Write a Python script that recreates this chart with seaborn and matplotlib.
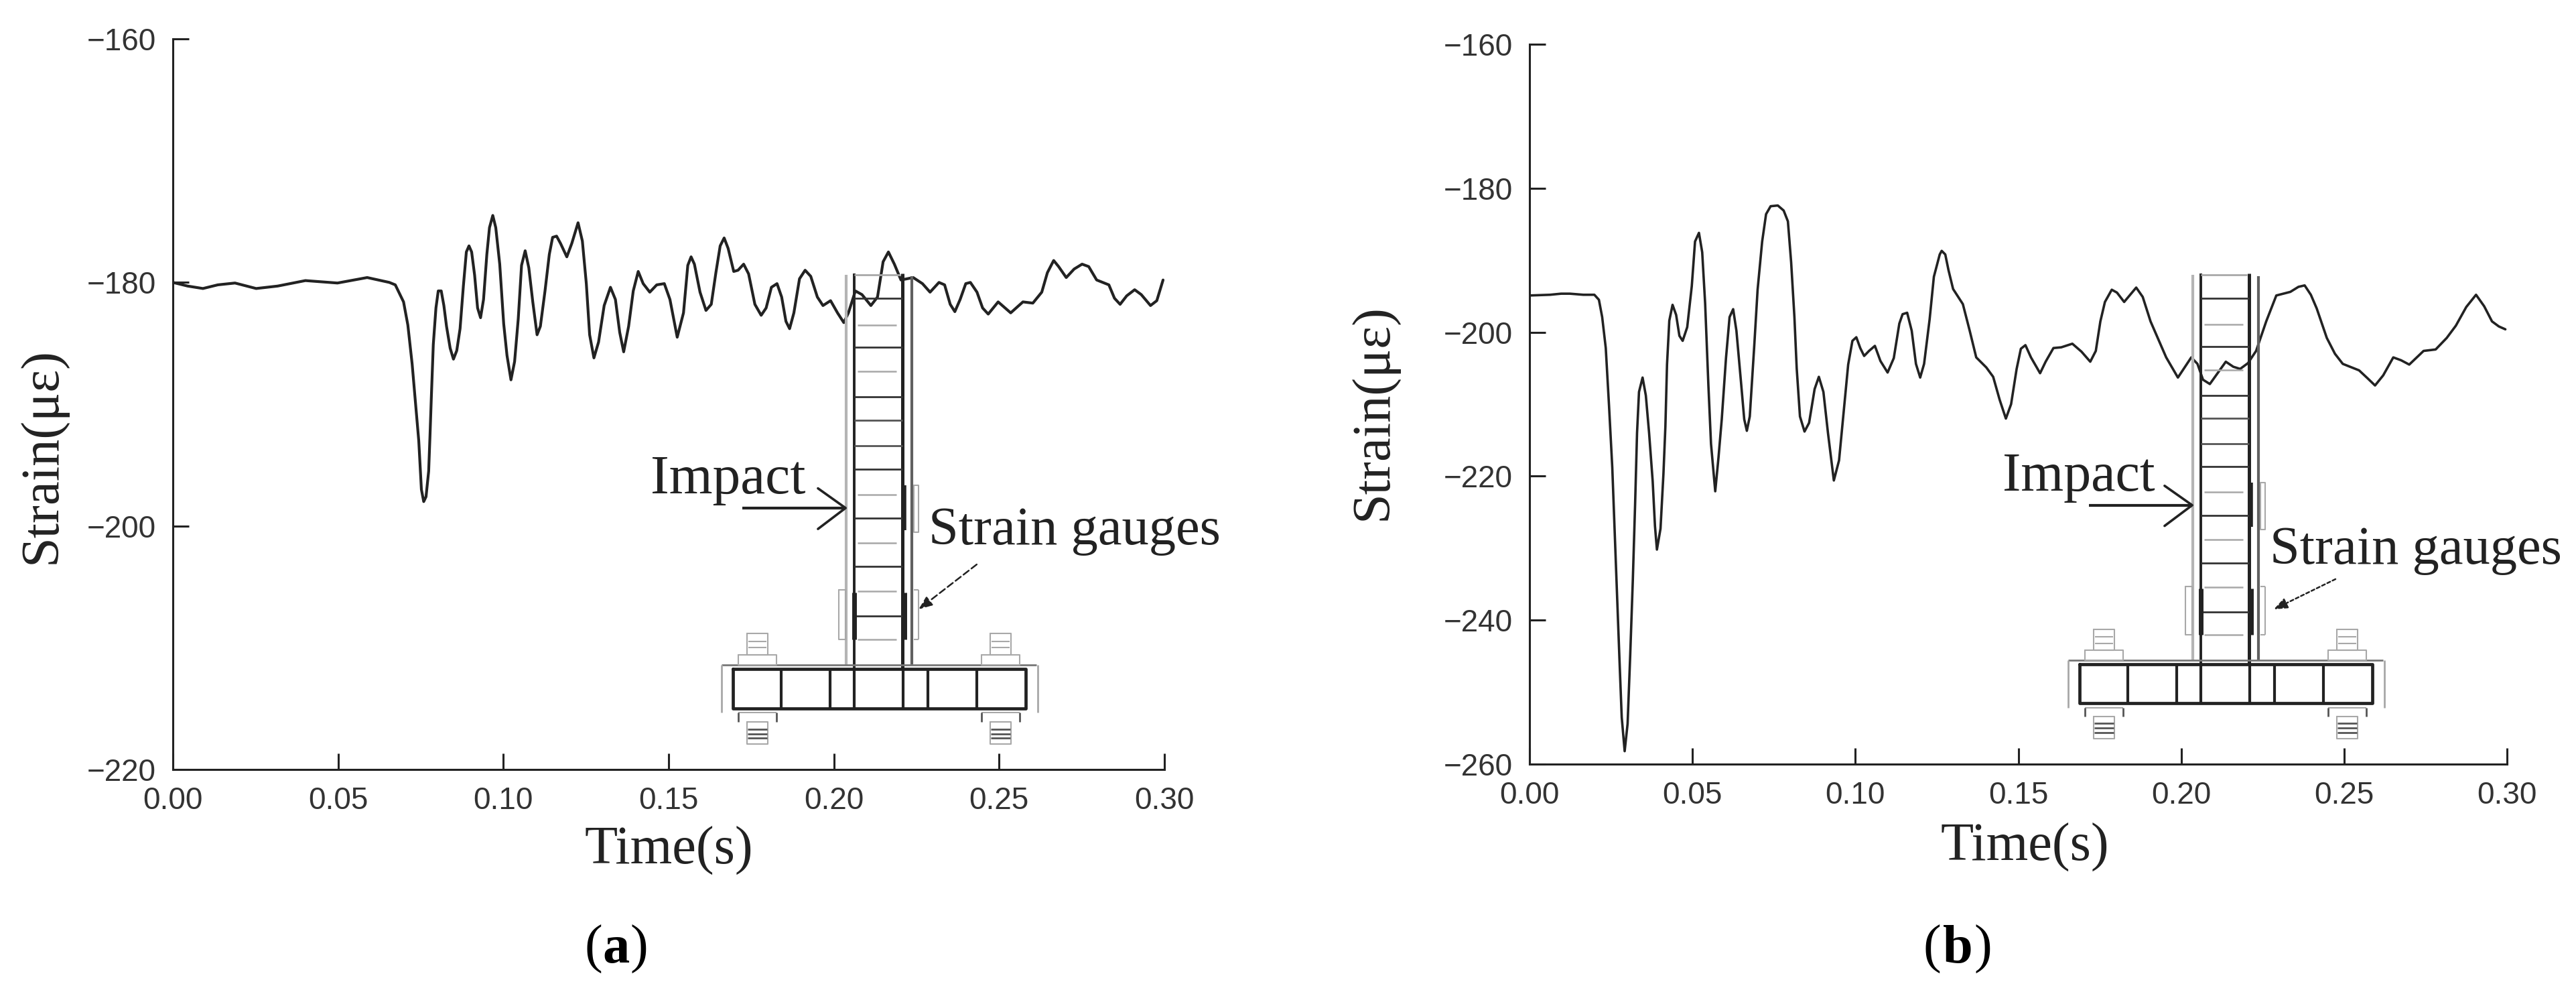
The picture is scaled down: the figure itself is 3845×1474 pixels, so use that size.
import matplotlib
matplotlib.use("Agg")
import matplotlib.pyplot as plt
import pandas as pd
import seaborn as sns

W, H = 3845, 1474

# Panel (a)
time_a = [0, .0045, .0091, .0136, .0188, .0252, .0317, .0401, .0498, .0588, .0655, .0673, .0698, .0711, .0724, .0744,
          .0752, .0759, .0766, .0774, .0778, .0782, .0788, .0796, .0803, .0812, .0820, .0828, .0839, .0849,
          .0859, .0869, .0879, .0888, .0896, .0904, .0913, .0922, .0931, .0940, .0950, .0958, .0968, .0977,
          .0989, .1001, .1011, .1023, .1034, .1045, .1055, .1066, .1077, .1089, .1102, .1112, .1126, .1139,
          .1149, .1161, .1173, .1192, .1207, .1226, .1239, .1251, .1261, .1274, .1288, .1305, .1324, .1339,
          .1352, .1364, .1379, .1393, .1408, .1423, .1443, .1464, .1487, .1504, .1526, .1545, .1558, .1568,
          .1578, .1595, .1613, .1629, .1643, .1656, .1668, .1680, .1697, .1710, .1727, .1742, .1761, .1780,
          .1795, .1811, .1828, .1842, .1855, .1866, .1879, .1896, .1913, .1930, .1950, .1967, .1990, .2011,
          .2030, .2044, .2065, .2085, .2112, .2132, .2149, .2165, .2183, .2203, .2240, .2268, .2291, .2318,
          .2335, .2352, .2366, .2382, .2399, .2413, .2433, .2450, .2467, .2497, .2535, .2572, .2602, .2629,
          .2646, .2665, .2680, .2703, .2727, .2751, .2771, .2795, .2832, .2849, .2866, .2886, .2910, .2930,
          .2958, .2977, .2996]
strain_a = [-180, -180.3, -180.5, -180.2, -180.05, -180.5, -180.3, -179.85, -180.05, -179.6, -180, -180.2, -181.6,
            -183.5, -186.7, -193, -197, -198, -197.6, -195.5, -192.6, -189.5, -185.1, -182.1, -180.7, -180.7,
            -181.9, -183.6, -185.4, -186.3, -185.6, -183.8, -180.3, -177.5, -177, -177.5, -179.4, -182.1,
            -182.9, -181.4, -177.7, -175.5, -174.5, -175.5, -178.5, -183.4, -186, -188, -186.5, -183, -178.6,
            -177.4, -178.8, -181.6, -184.3, -183.6, -180.7, -177.7, -176.3, -176.2, -176.8, -177.9, -176.8,
            -175.1, -176.6, -180.1, -184.3, -186.2, -184.9, -181.9, -180.4, -181.4, -184.1, -185.7, -183.6,
            -180.7, -179.1, -180.1, -180.8, -180.2, -180.1, -181.4, -184.5, -182.5, -178.6, -177.9, -178.5,
            -180.8, -182.3, -181.8, -179.2, -177, -176.35, -177.2, -179.1, -179, -178.5, -179.3, -181.8,
            -182.7, -182.1, -180.4, -180.1, -181.2, -183.2, -183.8, -182.5, -179.7, -179, -179.5, -181.2,
            -181.9, -181.5, -182.5, -183.3, -182.5, -180.7, -181, -181.9, -181.2, -178.3, -177.5, -178.5,
            -179.8, -179.6, -180.1, -180.8, -180, -180.2, -181.8, -182.4, -181.4, -180.1, -180, -180.8, -182.1,
            -182.6, -181.6, -182.5, -181.6, -181.7, -180.8, -179.2, -178.2, -178.7, -179.6, -178.9, -178.5,
            -178.7, -179.8, -180.2, -181.3, -181.8, -181.1, -180.6, -181, -181.9, -181.5, -179.8]

# Panel (b)
time_b = [0, .0063, .0097, .0124, .0165, .0199, .0213, .0223, .0234, .0244, .0254, .0261, .0268, .0276, .0283,
          .0292, .0301, .0309, .0317, .0324, .0330, .0336, .0347, .0357, .0367, .0378, .0385, .0391, .0402,
          .0411, .0417, .0422, .0429, .0439, .0450, .0460, .0470, .0484, .0498, .0508, .0520, .0530, .0539,
          .0549, .0557, .0570, .0580, .0590, .0603, .0614, .0625, .0635, .0649, .0659, .0667, .0676, .0690,
          .0700, .0714, .0726, .0740, .0762, .0780, .0793, .0803, .0813, .0820, .0830, .0844, .0858, .0875,
          .0888, .0902, .0916, .0934, .0950, .0964, .0978, .0991, .1003, .1015, .1027, .1042, .1060, .1077,
          .1099, .1118, .1135, .1145, .1159, .1173, .1186, .1199, .1211, .1228, .1241, .1259, .1265, .1276,
          .1286, .1300, .1330, .1351, .1371, .1402, .1423, .1443, .1462, .1478, .1495, .1508, .1522, .1539,
          .1567, .1584, .1608, .1632, .1666, .1694, .1721, .1738, .1752, .1766, .1787, .1803, .1825, .1862,
          .1882, .1906, .1954, .1990, .2012, .2031, .2050, .2067, .2088, .2137, .2160, .2181, .2205, .2230,
          .2261, .2292, .2335, .2360, .2379, .2398, .2416, .2447, .2472, .2496, .2546, .2572, .2595, .2620,
          .2651, .2675, .2700, .2744, .2781, .2815, .2843, .2875, .2905, .2930, .2954, .2975, .2995]
strain_b = [-194.9, -194.8, -194.65, -194.65, -194.8, -194.8, -195.5, -197.9, -202.2, -210.2, -218.8, -227.3,
            -235.9, -245.4, -253.5, -258.2, -254.4, -244.9, -234.5, -224, -214, -208.3, -206.3, -208.8, -214,
            -220.7, -226.9, -230.2, -227.3, -219.7, -213.1, -204.5, -198.4, -196.2, -197.6, -200.5, -201.2,
            -199.3, -193.6, -187.4, -186.2, -188.9, -196, -207.4, -215.5, -222.1, -217.4, -212.1, -203.6,
            -197.9, -196.8, -199.8, -206.9, -212.1, -213.7, -211.7, -201.7, -194.1, -187.4, -183.6, -182.5,
            -182.4, -183.1, -184.6, -190.3, -197.9, -205, -211.7, -213.8, -212.6, -207.9, -206.2, -208.3,
            -214, -220.6, -217.8, -211.2, -204.5, -201.2, -200.7, -202.2, -203.3, -202.6, -201.9, -204,
            -205.6, -203.6, -198.8, -197.5, -197.3, -199.8, -204.4, -206.3, -204.4, -198.2, -192.3, -189.2,
            -188.7, -189.2, -191.4, -194, -196.1, -199.8, -203.5, -204.9, -206.2, -209.4, -212, -210, -205.1,
            -202.3, -201.8, -203.5, -205.7, -204.1, -202.2, -202.1, -201.6, -202.7, -204.1, -202.6, -198.5,
            -195.8, -194.1, -194.5, -195.8, -193.8, -195.1, -198.5, -203.5, -206.3, -204.8, -203.5, -204.4,
            -206.6, -207.2, -204.1, -204.8, -205.1, -204.3, -202.6, -198.5, -194.9, -194.4, -193.7, -193.5,
            -194.8, -196.7, -200.8, -203, -204.4, -205.3, -206.4, -207.4, -206, -203.5, -203.9, -204.5,
            -202.6, -202.4, -200.8, -199.1, -196.5, -194.8, -196.4, -198.5, -199.2, -199.6]

x_ticks = [0.00, 0.05, 0.10, 0.15, 0.20, 0.25, 0.30]
y_ticks_a = [-220, -200, -180, -160]
y_ticks_b = [-260, -240, -220, -200, -180, -160]

INK = "#222222"
GREY = "#a8a8a8"

sns.set_theme(style="ticks")
plt.rcParams["font.family"] = ["Liberation Sans", "DejaVu Sans"]
SERIF = ["Liberation Serif", "DejaVu Serif"]

fig = plt.figure(figsize=(W / 100, H / 100), dpi=100, facecolor="white")


def make_panel(box, t, s, yticks, lw, xlab, ylab):
    left, top, right, bottom = box
    ax = fig.add_axes([left / W, 1 - bottom / H, (right - left) / W, (bottom - top) / H])
    df = pd.DataFrame({"t": t, "s": s})
    sns.lineplot(data=df, x="t", y="s", ax=ax, color=INK, linewidth=lw, sort=False, errorbar=None)
    ax.set_xlim(0, 0.30)
    ax.set_ylim(yticks[0], yticks[-1])
    ax.set_xticks(x_ticks)
    ax.set_xticklabels([f"{v:.2f}" for v in x_ticks])
    ax.set_yticks(yticks)
    ax.set_yticklabels([f"\u2212{abs(v)}" for v in yticks])
    ax.tick_params(direction="in", length=17, width=2.2, color=INK, labelcolor="#333333", labelsize=33, pad=18)
    ax.set_xlabel("Time(s)", fontsize=58, family=SERIF, color=INK)
    ax.set_ylabel("Strain(\u03bc\u03b5)", fontsize=58, family=SERIF, color=INK)
    ax.xaxis.set_label_coords(*xlab)
    ax.yaxis.set_label_coords(*ylab)
    sns.despine(ax=ax)
    for side in ["left", "bottom"]:
        ax.spines[side].set_linewidth(2.2)
        ax.spines[side].set_color(INK)
    return ax


ax_a = make_panel((258, 58, 1738, 1148), time_a, strain_a, y_ticks_a, 3.0, (0.5, -0.078), (-0.106, 0.43))
ax_b = make_panel((2283, 66, 3742, 1140), time_b, strain_b, y_ticks_b, 2.6, (0.507, -0.082), (-0.134, 0.489))

# overlay in pixel units for the specimen sketch and the captions
over = fig.add_axes([0, 0, 1, 1], facecolor="none")
over.set_xlim(0, W)
over.set_ylim(H, 0)
over.axis("off")


def sketch(dx, ys):
    def px(p):
        return 950 + p / 1.65 + dx

    def py(q):
        return 300 + (170 + (q - 170) * ys) / 1.568

    def seg(p0, q0, p1, q1, color=INK, lw=2.0):
        over.plot([px(p0), px(p1)], [py(q0), py(q1)], color=color, lw=lw, solid_capstyle="butt")

    def box(p0, q0, p1, q1, color=GREY, lw=1.5):
        over.plot([px(p0), px(p1), px(p1), px(p0), px(p0)], [py(q0), py(q0), py(q1), py(q1), py(q0)],
                  color=color, lw=lw)

    # column
    seg(537, 170, 537, 1095, lw=2.8)
    seg(655, 170, 655, 1095, lw=3.6)
    seg(517, 172, 517, 1085, "#b4b4b4", 3)
    seg(678, 175, 678, 1085, "#606060", 3)
    seg(537, 172, 650, 172, GREY, 2)
    for q in [228, 342, 458, 627, 742, 855, 970]:
        seg(537, q, 655, q, "#333333", 2)
    for q in [512, 572]:
        seg(537, q, 655, q, "#555555", 2)
    for q in [290, 398, 686, 800, 912, 1025]:
        seg(545, q, 640, q, GREY, 1.8)
    # gauges
    seg(660, 665, 660, 770, lw=4)
    seg(537, 915, 537, 1025, lw=5)
    seg(660, 915, 660, 1025, lw=5)
    box(683, 665, 695, 775)
    box(498, 910, 515, 1025)
    seg(683, 910, 695, 910, GREY, 1.5)
    seg(695, 910, 695, 1025, GREY, 1.5)
    seg(683, 1025, 695, 1025, GREY, 1.5)
    # base
    box(237, 1095, 958, 1187, INK, 3.4)
    for p in [357, 477, 537, 657, 717, 838]:
        seg(p, 1095, p, 1187, lw=3)
    seg(210, 1085, 985, 1085, "#777777", 2)
    seg(210, 1085, 210, 1197, GREY, 2)
    seg(988, 1085, 988, 1197, GREY, 2)
    # bolts
    for c in [298, 897]:
        box(c - 26, 1012, c + 26, 1062)
        box(c - 47, 1062, c + 47, 1085)
        box(c - 26, 1218, c + 26, 1270)
        seg(c - 47, 1197, c + 47, 1197, GREY, 1.5)
        seg(c - 47, 1197, c - 47, 1218, "#555555", 2)
        seg(c + 47, 1197, c + 47, 1218, "#555555", 2)
        for q in [1030, 1045]:
            seg(c - 22, q, c + 22, q, GREY, 1.5)
        for q in [1235, 1246, 1256]:
            seg(c - 24, q, c + 24, q, "#555555", 2)
    # impact arrow
    seg(260, 718, 515, 718, lw=3)
    over.plot([px(447), px(515), px(447)], [py(672), py(718), py(767)], color=INK, lw=2.6)
    return px, py


px, py = sketch(0, 1.0)
over.text(px(35), py(683), "Impact", fontsize=60, family=SERIF, color=INK, ha="left", va="baseline")
over.text(px(720), py(803), "Strain gauges", fontsize=58, family=SERIF, color=INK, ha="left", va="baseline")
over.annotate("", xy=(px(695), py(955)), xytext=(px(838), py(850)),
              arrowprops=dict(arrowstyle="-|>,head_length=1.0,head_width=0.4", color=INK, lw=1.8,
                              linestyle=(0, (4, 2)), shrinkA=0, shrinkB=0))

px, py = sketch(2010, 0.988)
over.text(2989, py(683), "Impact", fontsize=59, family=SERIF, color=INK, ha="left", va="baseline")
over.text(3388, 300 + 848 / 1.568, "Strain gauges", fontsize=58, family=SERIF, color=INK, ha="left", va="baseline")
over.annotate("", xy=(3394, 909), xytext=(3486, 864),
              arrowprops=dict(arrowstyle="-|>,head_length=1.0,head_width=0.4", color=INK, lw=1.8,
                              linestyle=(0, (2, 1.5)), shrinkA=0, shrinkB=0))


def caption(letter, left, mid, right):
    over.text(left, 1436, "(", fontsize=58, family=SERIF, color="black", ha="left", va="baseline")
    over.text(mid, 1436, letter, fontsize=58, family=SERIF, weight="bold", color="black", ha="center", va="baseline")
    over.text(right, 1436, ")", fontsize=58, family=SERIF, color="black", ha="right", va="baseline")


caption("a", 873, 920, 967)
caption("b", 2871, 2922, 2973)

fig.savefig("out.png", dpi=100)
